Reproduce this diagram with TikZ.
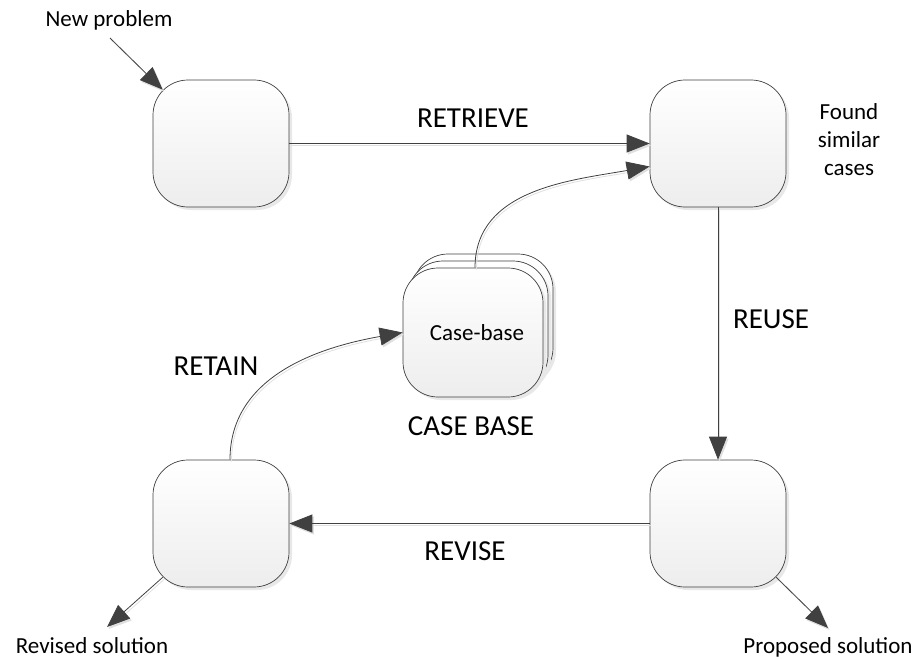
\documentclass[tikz,border=0pt]{standalone}
\usepackage{fontspec}
\setmainfont{Carlito}
\usepackage{tikz}
\usetikzlibrary{arrows.meta,shadows}
\definecolor{edgegray}{HTML}{404040}

\begin{document}
\begin{tikzpicture}[x=1pt,y=1pt,
    stepbox/.style={draw=edgegray, line width=0.7pt, rounded corners=35pt,
        minimum width=136pt, minimum height=127pt, inner sep=0pt,
        top color=white, bottom color=gray!14,
        drop shadow={shadow xshift=3pt, shadow yshift=-3pt, fill=gray!18, opacity=1}},
    cbbox/.style={stepbox, minimum width=140pt, minimum height=129pt},
    flow/.style={draw=edgegray, line width=0.8pt, -{Triangle[length=23pt,width=18pt]},
        preaction={draw=gray!25, line width=0.8pt, transform canvas={shift={(1.5pt,-2pt)}}}},
    small/.style={font=\fontsize{23}{28}\selectfont},
    big/.style={font=\fontsize{29}{34}\selectfont}]
    \useasboundingbox (0,0) rectangle (917,-658);

    % the four steps of the cycle
    \node[stepbox] (newp) at (221,-143.5) {};
    \node[stepbox] (found) at (718,-143.5) {};
    \node[stepbox] (prop) at (718,-523.5) {};
    \node[stepbox] (rev) at (221,-523.5) {};

    % case base, three stacked boxes
    \node[cbbox] (cb3) at (483,-318.5) {};
    \node[cbbox] (cb2) at (478,-325.5) {};
    \node[cbbox, small] (cb) at (473,-332.5) {\hspace{8pt}Case-base};

    % labels
    \node[small, anchor=base] (lnew) at (109,-27) {New problem};
    \node[small, align=center] (lfound) at (849,-140) {Found\\similar\\cases};
    \node[small, anchor=base] (lrevsol) at (92,-653) {Revised solution};
    \node[small, anchor=base] (lpropsol) at (828,-653) {Proposed solution};
    \node[big, anchor=base] (lretrieve) at (473,-127) {RETRIEVE};
    \node[big, anchor=base] (lreuse) at (771,-328) {REUSE};
    \node[big, anchor=base] (lrevise) at (465,-560) {REVISE};
    \node[big, anchor=base] (lretain) at (216,-375) {RETAIN};
    \node[big, anchor=base] (lcb) at (471,-435) {CASE BASE};

    % free ends
    \coordinate (np) at (110,-38);
    \coordinate (rs) at (107,-627);
    \coordinate (ps) at (828,-628);

    % connectors
    \draw[flow] (np) -- ([shift={(10pt,-10pt)}]newp.north west);
    \draw[flow] (newp.east) -- (found.west);
    \draw[flow] ([xshift=2pt]cb.north) to[out=90,in=190] ([yshift=-23pt]found.west);
    \draw[flow] (found.south) -- (prop.north);
    \draw[flow] (prop.west) -- (rev.east);
    \draw[flow] ([xshift=9pt]rev.north) to[out=90,in=190] (cb.west);
    \draw[flow] ([shift={(10pt,10pt)}]rev.south west) -- (rs);
    \draw[flow] ([shift={(-10pt,10pt)}]prop.south east) -- (ps);
\end{tikzpicture}
\end{document}
